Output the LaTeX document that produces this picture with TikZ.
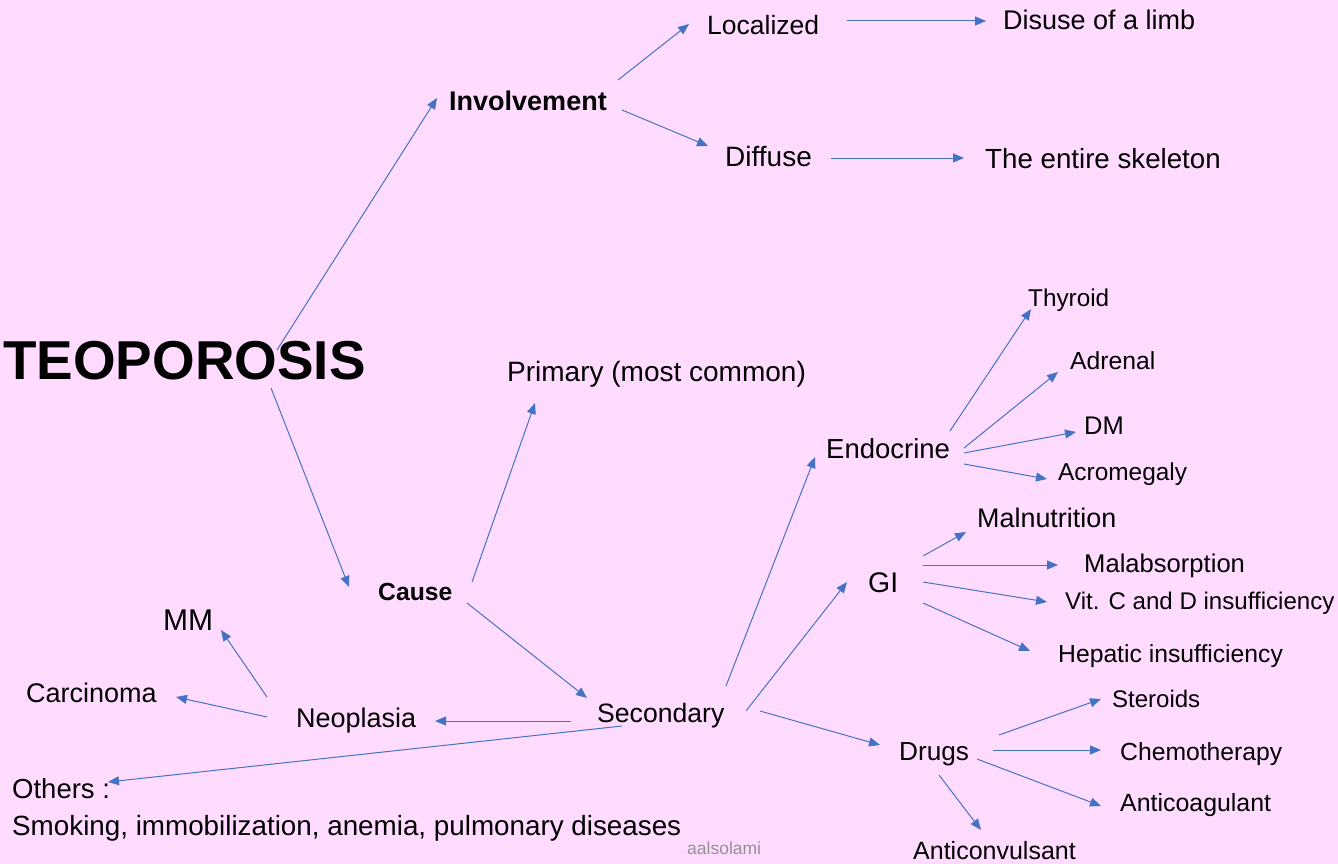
\documentclass[tikz,border=0pt]{standalone}
\usepackage{fontspec}
\setmainfont{Liberation Sans}
\usetikzlibrary{arrows.meta,calc}

\definecolor{bgpink}{RGB}{255,220,255}
\definecolor{arrblue}{RGB}{68,114,196}
\definecolor{signgray}{RGB}{145,145,145}

\begin{document}
\begin{tikzpicture}[x=1pt, y=-1pt,
  txt/.style={inner sep=0pt, anchor=base west, font=\fontsize{#1}{#1}\selectfont},
  arr/.style={-{Triangle[length=11pt,width=9pt]}, arrblue, line width=1pt}
]
\fill[bgpink] (0,0) rectangle (1338,864);
\useasboundingbox (0,0) rectangle (1338,864);

% root and first level
\node[txt=54.8] (teo) at (3,379) {\textbf{TEOPOROSIS}};
\node[txt=27] (inv) at (449,111) {\textbf{Involvement}};
\node[txt=24.7] (cause) at (378,600) {\textbf{Cause}};

% involvement
\node[txt=26.5] (loc) at (707,35) {Localized};
\node[txt=28] (dif) at (725,166) {Diffuse};
\node[txt=27] (limb) at (1003,30) {Disuse of a limb};
\node[txt=27.7] (skel) at (985,168) {The entire skeleton};

% cause
\node[txt=28] (prim) at (507,381) {Primary (most common)};
\node[txt=26.6] (sec) at (597,722) {Secondary};
\node[txt=27] (neo) at (296,727) {Neoplasia};
\node[txt=30] (mm) at (163,630) {MM};
\node[txt=27] (carc) at (26,702) {Carcinoma};
\node[txt=27.5] (others) at (12,798) {Others :};
\node[txt=27.8] (smoke) at (12,835) {Smoking, immobilization, anemia, pulmonary diseases};

% endocrine
\node[txt=27.5] (endo) at (826,458) {Endocrine};
\node[txt=24.3] (thy) at (1028,306) {Thyroid};
\node[txt=24.7] (adr) at (1070,369) {Adrenal};
\node[txt=25.5] (dm) at (1084,434) {DM};
\node[txt=24.4] (acro) at (1058,480) {Acromegaly};

% GI
\node[txt=28.4] (gi) at (868,592) {GI};
\node[txt=26.9] (maln) at (977,527) {Malnutrition};
\node[txt=25.6] (malab) at (1084,572) {Malabsorption};
\node[txt=24.1] (vit) at (1065,609) {Vit. C and D insufficiency};
\node[txt=24.7] (hep) at (1058,662) {Hepatic insufficiency};

% drugs
\node[txt=26.2] (drugs) at (899,760) {Drugs};
\node[txt=24] (ster) at (1112,707) {Steroids};
\node[txt=24.7] (chemo) at (1120,760) {Chemotherapy};
\node[txt=24.9] (coag) at (1120,811) {Anticoagulant};
\node[txt=25] (conv) at (913,859) {Anticonvulsant};

\node[txt=17.5, text=signgray] (sign) at (687,854) {aalsolami};

% connectors
\draw[arr] ($(teo.base west)+(274,-29)$) -- ($(inv.base west)+(-12,-13)$);
\draw[arr] ($(teo.base west)+(268,9)$) -- ($(cause.base west)+(-29,-13)$);
\draw[arr] ($(inv.base west)+(169,-31)$) -- ($(loc.base west)+(-18,-11)$);
\draw[arr] ($(inv.base west)+(173,-1)$) -- ($(dif.base west)+(-17,-20)$);
\draw[arr] ($(loc.base west)+(140,-14)$) -- ($(limb.base west)+(-17,-9)$);
\draw[arr] ($(dif.base west)+(106,-8)$) -- ($(skel.base west)+(-21,-10)$);

\draw[arr] ($(cause.base west)+(94,-18)$) -- ($(prim.base west)+(28,22)$);
\draw[arr] ($(cause.base west)+(89,3)$) -- ($(sec.base west)+(-10,-24)$);
\draw[arr] ($(sec.base west)+(-26,-1)$) -- ($(neo.base west)+(139,-6)$);
\draw[arr] ($(sec.base west)+(25,4)$) -- ($(others.base west)+(96,-16)$);
\draw[arr] ($(neo.base west)+(-29,-30)$) -- ($(mm.base west)+(58,0)$);
\draw[arr] ($(neo.base west)+(-29,-10)$) -- ($(carc.base west)+(150,-5)$);

\draw[arr] ($(sec.base west)+(129,-36)$) -- ($(endo.base west)+(-11,-1)$);
\draw[arr] ($(sec.base west)+(149,-11)$) -- ($(gi.base west)+(-21,-10)$);
\draw[arr] ($(sec.base west)+(163,-11)$) -- ($(drugs.base west)+(-19,-15)$);

\draw[arr] ($(endo.base west)+(124,-27)$) -- ($(thy.base west)+(3,3)$);
\draw[arr] ($(endo.base west)+(138,-10)$) -- ($(adr.base west)+(-12,3)$);
\draw[arr] ($(endo.base west)+(138,-5)$) -- ($(dm.base west)+(-8,-2)$);
\draw[arr] ($(endo.base west)+(138,6)$) -- ($(acro.base west)+(-11,-1)$);

\draw[arr] ($(gi.base west)+(55,-36)$) -- ($(maln.base west)+(-11,5)$);
\draw[arr] ($(gi.base west)+(55,-27)$) -- ($(malab.base west)+(-26,-7)$);
\draw[arr] ($(gi.base west)+(55,-10)$) -- ($(vit.base west)+(-18,-7)$);
\draw[arr] ($(gi.base west)+(55,11)$) -- ($(hep.base west)+(-28,-11)$);

\draw[arr] ($(drugs.base west)+(100,-25)$) -- ($(ster.base west)+(-11,-8)$);
\draw[arr] ($(drugs.base west)+(94,-10)$) -- ($(chemo.base west)+(-19,-10)$);
\draw[arr] ($(drugs.base west)+(78,-1)$) -- ($(coag.base west)+(-19,-5)$);
\draw[arr] ($(drugs.base west)+(40,15)$) -- ($(conv.base west)+(68,-29)$);

\end{tikzpicture}
\end{document}
